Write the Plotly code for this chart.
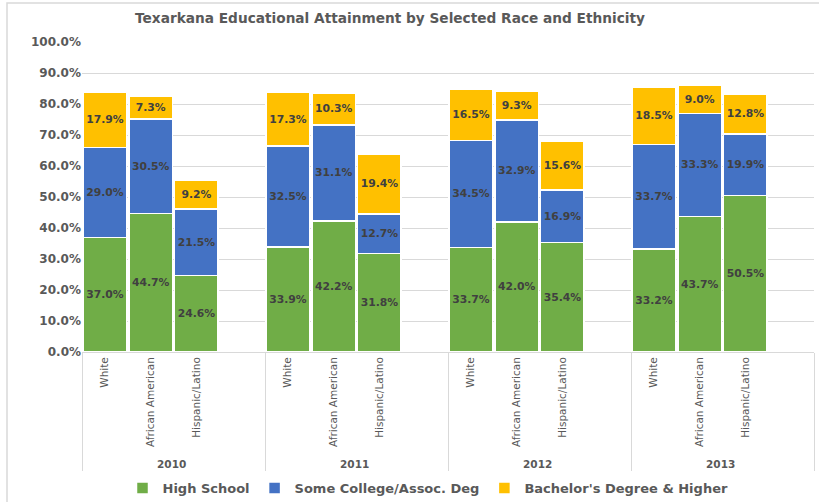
import plotly.graph_objects as go

years = ["2010", "2011", "2012", "2013"]
races = ["White", "African American", "Hispanic/Latino"]
high_school = [37.0, 44.7, 24.6, 33.9, 42.2, 31.8, 33.7, 42.0, 35.4, 33.2, 43.7, 50.5]
some_college = [29.0, 30.5, 21.5, 32.5, 31.1, 12.7, 34.5, 32.9, 16.9, 33.7, 33.3, 19.9]
bachelors = [17.9, 7.3, 9.2, 17.3, 10.3, 19.4, 16.5, 9.3, 15.6, 18.5, 9.0, 12.8]

series = [
    ("High School", high_school, "#70AD47"),
    ("Some College/Assoc. Deg", some_college, "#4472C4"),
    ("Bachelor's Degree & Higher", bachelors, "#FFC000"),
]

# multicategory x with an empty slot after each year group
xo, xi = [], []
for y in years:
    for r in races + [" "]:
        xo.append("<b>%s</b>" % y)
        xi.append(r)

def pad(vals):
    out = []
    for i in range(len(years)):
        out += vals[i * 3:(i + 1) * 3] + [None]
    return out

fig = go.Figure()
for name, vals, col in series:
    v = pad(vals)
    fig.add_trace(go.Bar(
        x=[xo, xi], y=v, name=name,
        marker=dict(color=col, line=dict(color="white", width=1.5)),
        text=[("%.1f%%" % a) if a is not None else "" for a in v],
        textposition="inside", insidetextanchor="middle", textangle=0,
        textfont=dict(family="DejaVu Sans", size=11, color="#404040", weight="bold"),
        cliponaxis=False,
    ))

L, R, T, B = 82, 5, 42, 150
W, H = 819, 502
pw, ph = W - L - R, H - T - B

fig.update_layout(
    barmode="stack", bargap=0.05,
    width=W, height=H,
    margin=dict(l=L, r=R, t=T, b=B, autoexpand=False),
    paper_bgcolor="white", plot_bgcolor="white",
    font=dict(family="DejaVu Sans", color="#595959"),
    title=dict(text="<b>Texarkana Educational Attainment by Selected Race and Ethnicity</b>",
               x=390 / W, xanchor="center", xref="container",
               y=1 - 18 / H, yanchor="middle", yref="container",
               font=dict(size=13.7, color="#595959")),
    uniformtext=dict(minsize=8, mode="show"),
    legend=dict(orientation="h", x=428 / W, xanchor="center", xref="container",
                y=1 - 488 / H, yanchor="middle", yref="container",
                font=dict(size=13, color="#595959", family="DejaVu Sans", weight="bold"),
                itemwidth=30, traceorder="normal"),
    showlegend=True,
    shapes=[dict(type="rect", xref="paper", yref="paper",
                 x0=(7 - L) / pw, x1=(W + 10 - L) / pw,
                 y0=-(H + 10 - T - ph) / ph, y1=1 + (T - 3) / ph,
                 line=dict(color="#D9D9D9", width=1.5), layer="below")],
)
fig.update_yaxes(range=[0, 100], dtick=10, tickformat=".1f", ticksuffix="%",
                 gridcolor="#D9D9D9", gridwidth=1, zeroline=False, automargin=False,
                 tickfont=dict(size=12, color="#595959", weight="bold"), showline=False)
fig.update_xaxes(type="multicategory", tickangle=-90, showline=True, linecolor="#D9D9D9",
                 showdividers=True, dividercolor="#D9D9D9", dividerwidth=1, automargin=False,
                 tickfont=dict(size=10.5, color="#595959"))
fig.write_html("out.html", config={"displayModeBar": False},
               post_script="document.body.style.margin='0';document.body.style.overflow='hidden';")
